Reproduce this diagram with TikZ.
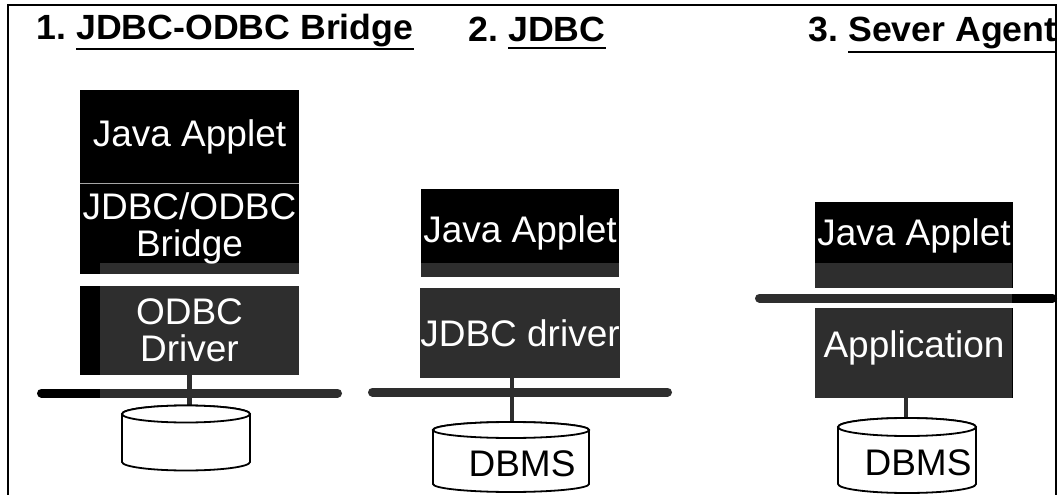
\documentclass[tikz,border=0pt]{standalone}
\usepackage{fontspec}
\setmainfont{Liberation Sans}
\newfontfamily\headfont[FakeStretch=1.02]{Liberation Sans}

\tikzset{
  layer/.style={rectangle, fill=black, inner sep=0pt, text=white, align=center,
    font=\fontsize{37}{37}\selectfont},
  layertext/.style={inner sep=0pt, text=white, font=\fontsize{37}{37}\selectfont},
  heading/.style={inner sep=0pt, anchor=base west,
    font=\headfont\bfseries\fontsize{35}{35}\selectfont},
  uline/.style={line width=2.2pt},
  bus/.style={line width=9pt, line cap=round},
  link/.style={line width=4.5pt},
  drum/.style={draw, line width=1.8pt, fill=white},
  dbtext/.style={inner sep=0pt, anchor=base, font=\fontsize{37}{37}\selectfont},
}

\begin{document}
\begin{tikzpicture}[x=1pt, y=-1pt]
\useasboundingbox (0,0) rectangle (1061,495);

% frame
\draw[line width=2pt] (8,497) -- (8,5.5) -- (1056,5.5) -- (1056,497);

% headings
\node[heading] (h1n) at (36,40) {1.};
\node[heading] (h1) at (76,40) {JDBC-ODBC Bridge};
\node[heading] (h2n) at (468,42) {2.};
\node[heading] (h2) at (508,42) {JDBC};
\node[heading] (h3n) at (808,42) {3.};
\node[heading] (h3) at (848,42) {Sever Agent};
\draw[uline] (h1.west |- 0,49) -- (h1.east |- 0,49);
\draw[uline] (h2.west |- 0,48) -- (h2.east |- 0,48);
\draw[uline] (h3.west |- 0,52) -- (h3.east |- 0,52);

% 1. JDBC-ODBC bridge stack
\node[layer, minimum width=219pt, minimum height=93.5pt] (applet1) at (189.5,136.75) {Java Applet};
\node[layer, minimum width=219pt, minimum height=90.5pt] (bridge) at (189.5,228.75) {JDBC/ODBC\\Bridge};
\node[layer, minimum width=219pt, minimum height=89.5pt] (odbc) at (189.5,330.25) {ODBC\\Driver};
\draw[gray!70, line width=1pt] (applet1.south west) -- (applet1.south east);

% 2. JDBC stack
\node[layer, minimum width=198pt, minimum height=88pt] (applet2) at (520,233) {Java Applet};
\node[layer, minimum width=198pt, minimum height=90pt] (drv) at (520,333) {JDBC driver};

% 3. server agent stack
\node[layer, minimum width=198pt, minimum height=86pt] (applet3) at (914,245) {};
\node[layertext] (applet3t) at (914,236) {Java Applet};
\node[layer, minimum width=198pt, minimum height=90pt] (app) at (914,353) {};
\node[layertext] (appt) at (914,348) {Application};

% network buses
\coordinate (bus1l) at (41.5,393);  \coordinate (bus1r) at (337.5,393);
\coordinate (bus2l) at (372.5,392); \coordinate (bus2r) at (667.5,392);
\coordinate (bus3l) at (759.5,298); \coordinate (bus3r) at (1052.5,298);
\draw[bus] (bus1l) -- (bus1r);
\draw[bus] (bus2l) -- (bus2r);
\draw[bus] (bus3l) -- (bus3r);

% database tops
\coordinate (db1top) at (190,410);
\coordinate (db2top) at (512,422);
\coordinate (db3top) at (906,418);

% links down to the databases
\draw[link] (odbc.south) -- (odbc.south |- db1top);
\draw[link] (db2top |- drv.south) -- (db2top);
\draw[link] (db3top |- app.south) -- (db3top);

% light wash over the lower part
\fill[white, opacity=0.18] (100,263) rectangle (1012,495);

% databases
\filldraw[drum] (122,414) -- (122,462) arc[start angle=180, end angle=0, x radius=64, y radius=8.5]
  -- (250,414) arc[start angle=0, end angle=-180, x radius=64, y radius=8.5] -- cycle;
\draw[drum] (186,414) ellipse [x radius=64, y radius=8.5];

\filldraw[drum] (433,430) -- (433,484) arc[start angle=180, end angle=0, x radius=78, y radius=8]
  -- (589,430) arc[start angle=0, end angle=-180, x radius=78, y radius=8] -- cycle;
\draw[drum] (511,430) ellipse [x radius=78, y radius=8];
\node[dbtext] (dbms2) at (522,476) {DBMS};

\filldraw[drum] (838,427) -- (838,484) arc[start angle=180, end angle=0, x radius=69, y radius=9]
  -- (976,427) arc[start angle=0, end angle=-180, x radius=69, y radius=9] -- cycle;
\draw[drum] (907,427) ellipse [x radius=69, y radius=9];
\node[dbtext] (dbms3) at (918,475) {DBMS};
\end{tikzpicture}
\end{document}
